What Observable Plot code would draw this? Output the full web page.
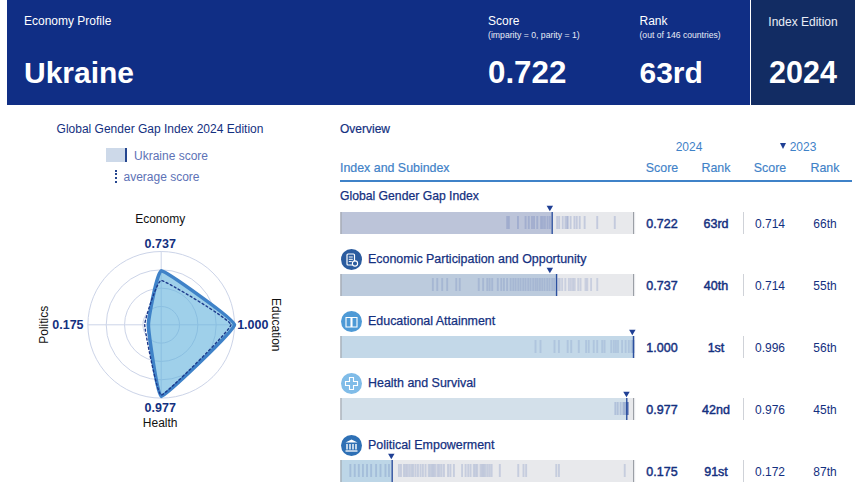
<!DOCTYPE html>
<html><head><meta charset="utf-8">
<script src="https://cdn.jsdelivr.net/npm/d3@7"></script>
<script src="https://cdn.jsdelivr.net/npm/@observablehq/plot@0.6"></script>
<style>
html,body{margin:0;padding:0;background:#fff;width:862px;height:495px;overflow:hidden;font-family:"Liberation Sans",Arial,sans-serif;color:#14307f}
#page{position:relative;width:862px;height:495px}
.t{position:absolute;white-space:nowrap;line-height:1;transform:translateY(-50%)}
.c{transform:translate(-50%,-50%)}
.box{position:absolute}
.pl{position:absolute}
</style></head><body><div id="page"></div>
<script>
const rowNames=["Global Gender Gap Index","Economic Participation and Opportunity","Educational Attainment","Health and Survival","Political Empowerment"];
const scores2024=[0.722,0.737,1.000,0.977,0.175];
const ranks2024=["63rd","40th","1st","42nd","91st"];
const scores2023=[0.714,0.714,0.996,0.976,0.172];
const ranks2023=["66th","55th","56th","45th","87th"];
const radarAxes=["Economy","Education","Health","Politics"];
const radarScores=[0.737,1.000,0.977,0.175];
const radarAverage=[0.605,0.951,0.960,0.225];
const ringLevels=[0.25,0.5,0.75,1];
const peersOverall=[.568,.574,.605,.631,.642,.653,.660,.671,.684,.690,.697,.706,.714,.739,.746,.758,.767,.772,.776,.785,.798,.806,.816,.833,.876,.936];
const peersEconomy=[.314,.329,.346,.363,.394,.406,.471,.486,.500,.508,.517,.536,.548,.557,.568,.580,.589,.597,.606,.614,.623,.631,.640,.648,.657,.665,.672,.680,.688,.696,.705,.713,.722,.729,.743,.748,.756,.767,.779,.786,.793,.799,.811,.819,.836,.842,.855,.876];
const peersEducation=[.665,.682,.730,.745,.775,.787,.813,.838,.847,.864,.876,.893,.901,.924,.933,.940,.947,.961,.973,.984,.993,.999,1,1];
const peersHealth=[.938,.946,.956,.965,.969,.973,.977,.978,.978,.979,.979,.980,.980,.981];
const peersPolitics=[.032,.047,.061,.075,.089,.103,.120,.135,.152,.164,.198,.205,.215,.221,.227,.234,.241,.247,.255,.263,.272,.280,.289,.300,.306,.312,.317,.323,.331,.337,.344,.352,.366,.374,.386,.414,.426,.435,.443,.454,.460,.466,.477,.483,.488,.494,.501,.508,.515,.543,.606,.624,.633,.736,.745,.970];
const peers=[peersOverall,peersEconomy,peersEducation,peersHealth,peersPolitics];

const NAVY="#14307f", BLUE="#3f82c8", TEXT2="#5d72b6";
const barFills=["#bcc4d9","#bccbdd","#c3d8e8","#d3e0ea","#bdd6e7"];
const tickAlpha=[0.24,0.2,0.17,0.26,0.22];
const iconFills=[null,"#2b5c9f","#4e9ad6","#80bce8","#2e70b5"];
const page=document.getElementById("page");
function box(x,y,w,h,bg){const d=document.createElement("div");d.className="box";d.style.cssText=`left:${x}px;top:${y}px;width:${w}px;height:${h}px;background:${bg}`;page.appendChild(d);return d;}
function txt(s,x,y,size,color,opt={}){const d=document.createElement("div");d.className="t"+(opt.center?" c":"");d.textContent=s;d.style.cssText=`left:${x}px;top:${y}px;font-size:${size}px;color:${color};font-weight:${opt.bold?700:400};${opt.extra||""}`;page.appendChild(d);return d;}
const med=(c,w=0.25)=>`-webkit-text-stroke:${w}px ${c}`;

// header
box(7,0,743,105,"#102e85");
box(751,0,104,105,"#122c63");
txt("Economy Profile",24,20.5,12,"#fff");
txt("Ukraine",24,73,30,"#fff",{bold:true});
txt("Score",488,20.5,12,"#fff");
txt("(imparity = 0, parity = 1)",488,35,8.7,"#e8ecf6");
txt("0.722",488,73,31.3,"#fff",{bold:true});
txt("Rank",639.5,20.5,12,"#fff");
txt("(out of 146 countries)",639.5,35,8.6,"#e8ecf6");
txt("63rd",639.5,73,30,"#fff",{bold:true});
txt("Index Edition",803,21.5,12,"#e9edf6",{center:true});
txt("2024",803,71.5,30.5,"#fff",{bold:true,center:true});

// legend
txt("Global Gender Gap Index 2024 Edition",160,129,12,NAVY,{center:true});
box(106,148,20,14,"#cdd9e9");
box(125,148,1.5,14,"#25468f");
txt("Ukraine score",134,156,12,TEXT2);
const dots=box(114.5,170,0,13,"transparent");dots.style.borderLeft="2px dotted #25468f";
txt("average score",123.5,177,12,TEXT2);

// table heads
txt("Overview",340,129,12,NAVY,{extra:med(NAVY,0.2)});
txt("2024",689,146.5,12,BLUE,{center:true});
txt("2023",803,146.5,12,BLUE,{center:true});
const tri=box(779.5,142.5,0,0,"transparent");
tri.style.cssText+=";width:0;height:0;border-left:3.5px solid transparent;border-right:3.5px solid transparent;border-top:6px solid #1f3f94";
txt("Index and Subindex",340,167.5,12.4,BLUE,{extra:med(BLUE,0.2)});
[["Score",662],["Rank",716],["Score",770],["Rank",825]].forEach(([s,x])=>txt(s,x,168,12.4,BLUE,{center:true,extra:med(BLUE,0.15)}));
box(340,180,512,2,BLUE);

const icons=[
 "",
 '<rect x="6" y="5" width="7.5" height="11" rx="1" fill="none" stroke="#fff" stroke-width="1.2"/><path d="M7.8 8h4M7.8 10.3h4M7.8 12.6h3" stroke="#fff" stroke-width="1"/><circle cx="14" cy="14.5" r="2.6" fill="#2b5c9f" stroke="#fff" stroke-width="1.1"/>',
 '<path d="M5 6.5h5v9.5H5zM11 6.5h5v9.5h-5z" fill="none" stroke="#fff" stroke-width="1.1"/>',
 '<path d="M8.5 4.5h4v4h4v4h-4v4h-4v-4h-4v-4h4z" fill="none" stroke="#fff" stroke-width="1.1"/>',
 '<path d="M10.5 4.5l6 3H4.5z" fill="#fff"/><path d="M6 9v5.5M9 9v5.5M12 9v5.5M15 9v5.5" stroke="#fff" stroke-width="1.4"/><path d="M4.5 16h12" stroke="#fff" stroke-width="1.3"/>'];

rowNames.forEach((name,i)=>{
  const top=212+62*i, mid=top+12;
  const titleY=i==0?196:top-15;
  if(i>0){
    const s=document.createElementNS("http://www.w3.org/2000/svg","svg");
    s.setAttribute("width",21);s.setAttribute("height",21);s.setAttribute("viewBox","0 0 21 21");
    s.style.cssText=`position:absolute;left:340.5px;top:${titleY-10.5}px`;
    s.innerHTML=`<circle cx="10.5" cy="10.5" r="10.5" fill="${iconFills[i]}"/>`+icons[i];
    page.appendChild(s);
  }
  txt(name,i==0?340:368,titleY,i==0?12.2:12.45,NAVY,{extra:med(NAVY,0.25)});
  const v=scores2024[i];
  const plot=Plot.plot({
    width:296,height:32,marginTop:10,marginBottom:0,marginLeft:0,marginRight:0,
    x:{domain:[0,1],range:[0.5,293],axis:null},
    y:{axis:null},
    style:{background:"transparent",overflow:"visible"},
    marks:[
      Plot.barX([0],{x1:0,x2:[1.0075],fill:"#e8e9ec"}),
      Plot.barX([0],{x1:0,x2:[v],fill:barFills[i]}),
      Plot.tickX(peers[i],{x:d=>d,stroke:"#4f68ae",strokeOpacity:tickAlpha[i],strokeWidth:1.9,insetTop:4,insetBottom:5}),
      Plot.ruleX([0,1],{stroke:"#9b9fa6",strokeWidth:1}),
      Plot.ruleX([v],{stroke:"#2b4f9f",strokeWidth:1.4}),
      Plot.dot([scores2023[i]],{x:d=>d,frameAnchor:"top",dy:-5,symbol:"triangle",rotate:180,r:2.4,fill:"#1f3f94"})
    ]});
  const w=document.createElement("div");w.className="pl";w.style.cssText=`left:340px;top:${top-10}px`;w.appendChild(plot);page.appendChild(w);
  txt(v.toFixed(3),662,mid,12.5,NAVY,{center:true,extra:med(NAVY,0.45)});
  txt(ranks2024[i],716,mid,12.5,NAVY,{center:true,extra:med(NAVY,0.45)});
  box(743,top,1,22,"#cfd2d8");
  txt(scores2023[i].toFixed(3),770,mid,12,NAVY,{center:true});
  txt(ranks2023[i],825,mid,12,NAVY,{center:true});
});

// radar
const polar=(vals)=>vals.map((r,i)=>({name:radarAxes[i],r,x:r*Math.sin(i*Math.PI/2),y:r*Math.cos(i*Math.PI/2)}));
const rim=polar(radarAxes.map(()=>1));
const pts=polar(radarScores), avg=polar(radarAverage);
const labelMark=(i,text,o)=>Plot.text([rim[i]],{x:"x",y:"y",text:()=>text,fontFamily:"Liberation Sans",...o});
const val=(i,dx,dy)=>labelMark(i,radarScores[i].toFixed(3),{dx,dy,fontSize:12.5,fontWeight:700,fill:NAVY});
const lab=(i,dx,dy,rotate)=>labelMark(i,radarAxes[i],{dx,dy,rotate:rotate||0,fontSize:12,fill:"#111"});
const blob=d3.curveCardinalClosed.tension(0.72);
const radar=Plot.plot({
  width:320,height:320,margin:0,
  x:{domain:[-1,1],range:[87.4,234],axis:null},
  y:{domain:[-1,1],range:[233.6,87],axis:null},
  r:{type:"linear",domain:[0,1],range:[0,73.3]},
  style:{background:"transparent",overflow:"visible"},
  marks:[
    Plot.dot(ringLevels,{x:()=>0,y:()=>0,r:d=>d,stroke:"#ccd4e8",strokeWidth:1}),
    Plot.link(rim,{x1:()=>0,y1:()=>0,x2:"x",y2:"y",stroke:"#ccd4e8",strokeWidth:1}),
    Plot.line(pts,{x:"x",y:"y",curve:blob,fill:"#5fb0dc",fillOpacity:0.6,stroke:BLUE,strokeWidth:3.6,strokeLinejoin:"round"}),
    Plot.line(avg,{x:"x",y:"y",curve:blob,stroke:"#1d3a8c",strokeWidth:1.4,strokeDasharray:"2,2.6"}),
    val(0,-1,-8),val(1,18.3,0),val(2,-1,9.5),val(3,-20,0),
    lab(0,-1,-32),lab(1,41,0,90),lab(2,-1,25.5),lab(3,-43.7,0,-90)
  ]});
const rw=document.createElement("div");rw.className="pl";rw.style.cssText="left:0;top:164px";rw.appendChild(radar);page.appendChild(rw);
</script></body></html>
